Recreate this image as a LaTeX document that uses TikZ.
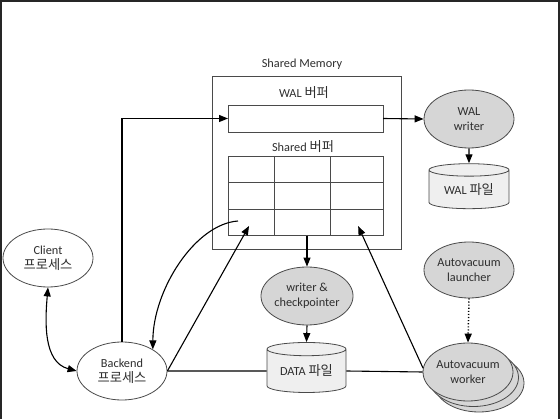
\documentclass[tikz,border=0pt]{standalone}
\usepackage{fontspec}
\setmainfont{Carlito}
\newfontfamily\kr[Scale=1.08]{Noto Sans CJK KR}
\usetikzlibrary{arrows.meta,shapes.geometric}
\definecolor{txt}{HTML}{2E2E2E}
\definecolor{ln}{HTML}{4A4A4A}
\definecolor{gfill}{HTML}{D6D6D6}
\definecolor{cfill}{HTML}{EFEFEF}
\tikzset{
  every node/.style={font=\fontsize{12.3}{15}\selectfont, text=txt},
  proc/.style={ellipse, draw=ln, line width=0.8pt, minimum width=90pt, minimum height=58pt, inner sep=0pt, align=center},
  gproc/.style={proc, fill=gfill},
  wproc/.style={proc, fill=white},
  store/.style={cylinder, shape border rotate=90, aspect=0.25, draw=ln, line width=0.8pt, fill=cfill, inner sep=0pt},
  membox/.style={draw=ln, line width=0.8pt, inner sep=0pt, outer sep=0pt},
  cell/.style={draw=ln, line width=0.7pt, inner sep=0pt, outer sep=0pt, minimum height=26.5pt},
  lbl/.style={inner sep=0pt},
  arr/.style={line width=1.1pt, -{Triangle[length=9pt,width=7pt]}},
  dblarr/.style={line width=1.1pt, {Triangle[length=9pt,width=7pt]}-{Triangle[length=9pt,width=7pt]}},
  plainln/.style={line width=1.1pt},
}
\begin{document}
\begin{tikzpicture}[x=1pt,y=-1pt]
\useasboundingbox (0,0) rectangle (560,419);
% screenshot frame
\draw[line width=2pt, black!85] (1,419) -- (1,0.6) -- (558.6,0.6) -- (558.6,419);

% shared memory
\node[membox, minimum width=189pt, minimum height=173pt] (sm) at (306.5,162.5) {};
\node[lbl] (smlbl) at (302,64) {Shared Memory};
\node[lbl] (wallbl) at (304,93) {WAL {\kr 버퍼}};
\node[membox, minimum width=155pt, minimum height=27pt] (walbuf) at (305.5,118.5) {};
\node[lbl] (shlbl) at (303,147) {Shared {\kr 버퍼}};
% grid cells
\node[cell, minimum width=46pt] (c11) at (251,169.5) {};
\node[cell, minimum width=56pt] (c12) at (302,169.5) {};
\node[cell, minimum width=53pt] (c13) at (356.5,169.5) {};
\node[cell, minimum width=46pt] (c21) at (251,196) {};
\node[cell, minimum width=56pt] (c22) at (302,196) {};
\node[cell, minimum width=53pt] (c23) at (356.5,196) {};
\node[cell, minimum width=46pt] (c31) at (251,222.5) {};
\node[cell, minimum width=56pt] (c32) at (302,222.5) {};
\node[cell, minimum width=53pt] (c33) at (356.5,222.5) {};

% processes
\node[wproc] (cl) at (48,258) {Client\\{\kr 프로세스}};
\node[wproc] (be) at (122,371) {Backend\\{\kr 프로세스}};
\node[gproc] (wc) at (307,296) {writer \&\\checkpointer};
\node[gproc] (walw) at (469,119) {WAL\\writer};
\node[gproc, minimum height=56pt] (al) at (469,270) {Autovacuum\\launcher};
\node[gproc] (w3) at (479,383) {};
\node[gproc] (w2) at (473.5,377.5) {};
\node[gproc] (w1) at (468,372) {Autovacuum\\worker};

% storage
\node[store, minimum width=80pt, minimum height=45pt] (walf) at (469,189.5) {WAL {\kr 파일}};
\node[store, minimum width=79pt, minimum height=50pt] (data) at (306.5,371) {DATA {\kr 파일}};

% connectors
\coordinate (cs) at (238,221);
\draw[dblarr] (cl.south) to[out=-95,in=165] (be.west);
\draw[arr] (be.north) |- (walbuf.west);
\draw[arr, shorten >=4pt] (be.east) -- (c31.center);
\draw[arr] (cs) .. controls (195,224) and (153,290) .. (be.35);
\draw[arr] (walbuf.east) -- (walw.west);
\draw[arr] (walw.south) -- (walf.north);
\draw[arr] (wc.north |- c32.south) -- (wc.north);
\draw[arr] (wc.south) -- (data.north);
\draw[plainln] (be.east) -- (data.west);
\draw[plainln] (data.east) -- (w1.west);
\draw[arr, shorten >=4pt] (w1.175) -- (c33.center);
\draw[arr, dotted, line width=1.5pt] (al.south) -- (w1.north);
\end{tikzpicture}
\end{document}
